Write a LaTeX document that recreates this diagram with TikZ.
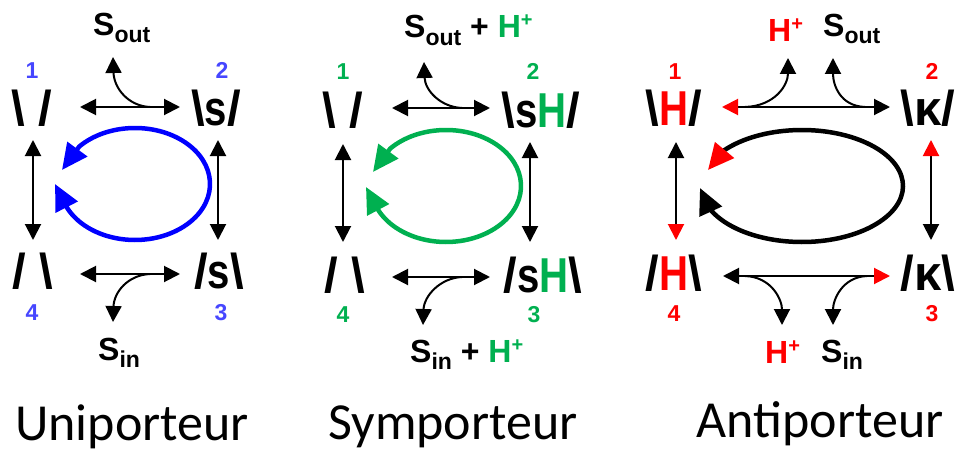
\documentclass[tikz,border=0pt]{standalone}
\usepackage{fontspec}
\setmainfont{Liberation Sans}
\newfontfamily\titlefont{Carlito}
\usetikzlibrary{arrows.meta,calc}
\definecolor{nblue}{RGB}{70,70,255}
\definecolor{abblue}{RGB}{0,0,255}
\definecolor{sgreen}{RGB}{0,176,80}
\definecolor{sred}{RGB}{255,0,0}
\newcommand\mysub[1]{\raisebox{-7pt}{\fontsize{23}{23}\selectfont #1}}
\newcommand\mysup[1]{\raisebox{11pt}{\fontsize{20}{20}\selectfont #1}}
\newcommand\nl[1]{\scalebox{0.82}[1]{#1}}
\tikzset{
 memb/.style={font=\fontsize{49}{49}\selectfont\bfseries, inner sep=0pt, anchor=base},
 num/.style={font=\fontsize{23}{23}\selectfont\bfseries, inner sep=0pt, anchor=base},
 subst/.style={font=\fontsize{32}{32}\selectfont\bfseries, inner sep=0pt, anchor=base west},
 ttl/.style={font=\titlefont\fontsize{52}{52}\selectfont, inner sep=0pt, anchor=base},
 tk/.tip={Triangle[length=16pt,width=16pt]},
 tr/.tip={Triangle[length=16pt,width=16pt,color=sred,fill=sred]},
 lk/.tip={Triangle[length=26pt,width=24pt]},
 lr/.tip={Triangle[length=26pt,width=24pt,color=sred,fill=sred]},
 conn/.style={line width=2pt},
 loopar/.style={line width=4.5pt},
}
\begin{document}
\begin{tikzpicture}[x=1pt,y=-1pt]
\useasboundingbox (0,0) rectangle (956,452);
% ---------------- Panel 1 : Uniporteur
\node[memb] (u1) at (32,125) {\textbackslash\ /};
\node[memb] (u2) at (216,125) {\textbackslash\nl{s}/};
\node[memb] (u4) at (33,288) {/\ \textbackslash};
\node[memb] (u3) at (219,288) {/\nl{s}\textbackslash};
\node[num,text=nblue] (un1) at (32,78) {1};
\node[num,text=nblue] (un2) at (222,78) {2};
\node[num,text=nblue] (un4) at (32,320) {4};
\node[num,text=nblue] (un3) at (221,320) {3};
\node[subst] (uso) at (93,36) {S\mysub{out}};
\node[subst] (usi) at (98,360) {S\mysub{in}};
\coordinate (uhl) at (80,107); \coordinate (uhr) at (180,107);
\coordinate (ubl) at (80,274); \coordinate (ubr) at (180,274);
\coordinate (uvlt) at (33,140); \coordinate (uvlb) at (33,240);
\coordinate (uvrt) at (218,140); \coordinate (uvrb) at (218,240);
\coordinate (uto) at (113,57); \coordinate (uti) at (113,322);
\coordinate (ubt) at (150,107); \coordinate (ubb) at (150,274);
\draw[conn,tk-tk] (uhl) -- (uhr);
\draw[conn,tk-tk] (ubl) -- (ubr);
\draw[conn,tk-tk] (uvlt) -- (uvlb);
\draw[conn,tk-tk] (uvrt) -- (uvrb);
\draw[conn,-tk] (ubt) .. controls (128,106) and (114,88) .. (uto);
\draw[conn,-tk] (ubb) .. controls (128,275) and (114,292) .. (uti);
\coordinate (uC) at (135,184);
\coordinate (uT1) at (62,170); \coordinate (uT2) at (55,184);
\draw[loopar,draw=abblue,lk-lk] (uT1) -- ($(uC)+(138:75pt and 56pt)$) arc[start angle=138,end angle=-155,x radius=75pt,y radius=56pt] -- (uT2);
% ---------------- Panel 2 : Symporteur
\node[memb] (s1) at (343,127) {\textbackslash\ /};
\node[memb] (s2) at (541,127) {\textbackslash\nl{s}\textcolor{sgreen}{\nl{H}}/};
\node[memb] (s4) at (345,292) {/\ \textbackslash};
\node[memb] (s3) at (543,292) {/\nl{s}\textcolor{sgreen}{\nl{H}}\textbackslash};
\node[num,text=sgreen] (sn1) at (343,80) {1};
\node[num,text=sgreen] (sn2) at (533,80) {2};
\node[num,text=sgreen] (sn4) at (343,322) {4};
\node[num,text=sgreen] (sn3) at (534,322) {3};
\node[subst] (sso) at (404,38) {S\mysub{out} + \textcolor{sgreen}{H\mysup{+}}};
\node[subst] (ssi) at (410,362) {S\mysub{in} + \textcolor{sgreen}{H\mysup{+}}};
\coordinate (shl) at (392,108); \coordinate (shr) at (490,108);
\coordinate (sbl) at (392,277); \coordinate (sbr) at (490,277);
\coordinate (svlt) at (343,144); \coordinate (svlb) at (343,242);
\coordinate (svrt) at (530,142); \coordinate (svrb) at (530,242);
\coordinate (sto) at (424,62); \coordinate (sti) at (423,325);
\coordinate (sbt) at (462,108); \coordinate (sbb) at (462,277);
\draw[conn,tk-tk] (shl) -- (shr);
\draw[conn,tk-tk] (sbl) -- (sbr);
\draw[conn,tk-tk] (svlt) -- (svlb);
\draw[conn,tk-tk] (svrt) -- (svrb);
\draw[conn,-tk] (sbt) .. controls (440,107) and (425,90) .. (sto);
\draw[conn,-tk] (sbb) .. controls (440,278) and (424,296) .. (sti);
\coordinate (sC) at (446,186);
\coordinate (sT1) at (373,172); \coordinate (sT2) at (366,187);
\draw[loopar,draw=sgreen,lk-lk] (sT1) -- ($(sC)+(138:75pt and 56pt)$) arc[start angle=138,end angle=-155,x radius=75pt,y radius=56pt] -- (sT2);
% ---------------- Panel 3 : Antiporteur
\node[memb] (a1) at (674,125) {\textbackslash\textcolor{sred}{\nl{H}}/};
\node[memb] (a2) at (928,125) {\textbackslash κ/};
\node[memb] (a4) at (674,290) {/\textcolor{sred}{\nl{H}}\textbackslash};
\node[memb] (a3) at (928,290) {/κ\textbackslash};
\node[num,text=sred] (an1) at (675,79) {1};
\node[num,text=sred] (an2) at (932,79) {2};
\node[num,text=sred] (an4) at (674,321) {4};
\node[num,text=sred] (an3) at (932,321) {3};
\node[subst,text=sred] (aho) at (768,42) {H\mysup{+}};
\node[subst] (aso) at (823,37) {S\mysub{out}};
\node[subst,text=sred] (ahi) at (765,363) {H\mysup{+}};
\node[subst] (asi) at (821,362) {S\mysub{in}};
\coordinate (ahl) at (722,107); \coordinate (ahr) at (890,107);
\coordinate (abl) at (723,276); \coordinate (abr) at (890,276);
\coordinate (avlt) at (676,142); \coordinate (avlb) at (676,240);
\coordinate (avrt) at (931,140); \coordinate (avrb) at (931,240);
\draw[conn,tr-tk] (ahl) -- (ahr);
\draw[conn,tk-tr] (abl) -- (abr);
\draw[conn,tk-tr] (avlt) -- (avlb);
\draw[conn,tr-tk] (avrt) -- (avrb);
\coordinate (ab1) at (745,107); \coordinate (ab2) at (865,107);
\coordinate (ab3) at (745,276); \coordinate (ab4) at (867,276);
\coordinate (ahot) at (788,58); \coordinate (asot) at (833,58);
\coordinate (ahit) at (782,325); \coordinate (asit) at (833,325);
\draw[conn,-tk] (ab1) .. controls (775,106) and (788,85) .. (ahot);
\draw[conn,-tk] (ab2) .. controls (840,106) and (833,85) .. (asot);
\draw[conn,-tk] (ab3) .. controls (772,277) and (782,300) .. (ahit);
\draw[conn,-tk] (ab4) .. controls (842,277) and (833,300) .. (asit);
\coordinate (aC) at (802,186);
\coordinate (aT1) at (708,170); \coordinate (aT2) at (700,188);
\draw[loopar,draw=black,lr-lk] (aT1) -- ($(aC)+(140:101pt and 56pt)$) arc[start angle=140,end angle=-157,x radius=101pt,y radius=56pt] -- (aT2);
% ---------------- Titles
\node[ttl] (t1) at (132,440) {Uniporteur};
\node[ttl] (t2) at (453,439) {Symporteur};
\node[ttl] (t3) at (820,437) {Antiporteur};
\end{tikzpicture}
\end{document}
